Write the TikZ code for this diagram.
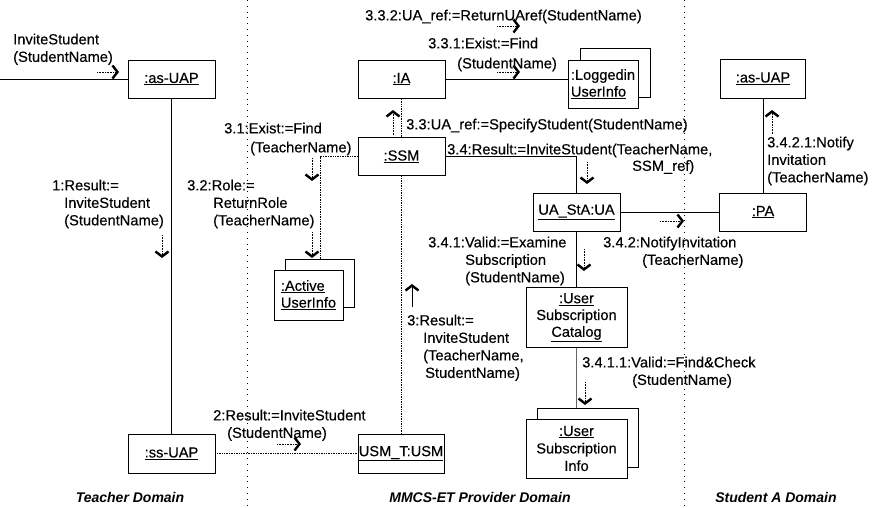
\documentclass[tikz,border=0pt]{standalone}
\usepackage{fontspec}
\setmainfont{Liberation Sans}[FakeBold=0.3]
\newfontfamily\domfont{Liberation Sans}
\usetikzlibrary{arrows.meta,calc}
\begin{document}
\begin{tikzpicture}[x=1pt,y=-1pt,
  obj/.style={draw, line width=0.7pt, fill=white, inner sep=0pt, align=center, font=\fontsize{14.6}{16.8}\selectfont},
  lbl/.style={inner sep=0pt, anchor=north west, align=left, font=\fontsize{14.7}{17.5}\selectfont},
  link/.style={line width=0.7pt},
  dlink/.style={line width=0.7pt, densely dotted},
  msg/.style={densely dotted, line width=0.6pt, -{Straight Barb[length=5pt,width=13pt,line width=2.4pt]}},
  smsg/.style={line width=0.7pt, -{Straight Barb[length=5pt,width=13pt,line width=2.4pt]}},
  sep/.style={line width=0.8pt, dash pattern=on 0.8pt off 5pt},
  dom/.style={font=\domfont\fontsize{14}{16}\selectfont\bfseries\itshape, inner sep=0pt}]
\useasboundingbox (0,0) rectangle (874,507);

% domain separators
\coordinate (s1t) at (247,0); \coordinate (s1b) at (247,507);
\coordinate (s2t) at (684,0); \coordinate (s2b) at (684,507);
\draw[sep] (s1t) -- (s1b);
\draw[sep] (s2t) -- (s2b);

% objects
\node[obj, minimum width=87pt, minimum height=38pt] (asuapL) at (171.5,79) {\underline{:as-UAP}};
\node[obj, minimum width=87pt, minimum height=38pt] (ia) at (401.5,79) {\underline{:IA}};
\node[obj, minimum width=87pt, minimum height=38pt] (ssm) at (401.5,156.5) {\underline{:SSM}};
\node[obj, minimum width=70pt, minimum height=49pt] (logB) at (615,72.5) {};
\node[obj, minimum width=70pt, minimum height=48pt, align=left] (logF) at (603,84) {:Loggedin\\\underline{UserInfo}};
\node[obj, minimum width=69pt, minimum height=48pt] (actB) at (319.5,283) {};
\node[obj, minimum width=69pt, minimum height=50pt, align=left] (actF) at (308.5,295) {\underline{:Active}\\\underline{UserInfo}};
\node[obj, minimum width=85pt, minimum height=39pt] (asuapR) at (763,78.5) {\underline{:as-UAP}};
\node[obj, minimum width=87pt, minimum height=38pt] (ua) at (576.5,212) {\underline{UA\_StA:UA}};
\node[obj, minimum width=87pt, minimum height=38pt] (pa) at (763,212) {\underline{:PA}};
\node[obj, minimum width=101pt, minimum height=60pt] (cat) at (576.5,317.5) {\underline{:User}\\Subscription\\\underline{Catalog}};
\node[obj, minimum width=101pt, minimum height=59pt] (infB) at (587.5,437.5) {};
\node[obj, minimum width=101pt, minimum height=59pt, font=\fontsize{14.6}{17.5}\selectfont] (infF) at (576.5,448.5) {\underline{:User}\\Subscription\\Info};
\node[obj, minimum width=87pt, minimum height=39pt] (ssuap) at (171.5,453.5) {\underline{:ss-UAP}};
\node[obj, minimum width=86pt, minimum height=39pt] (usm) at (401,453.5) {\underline{USM\_T:USM}};

% links
\coordinate (start) at (0,79);
\draw[link] (start) -- (asuapL.west);
\draw[link] (asuapL.south) -- (ssuap.north);
\draw[dlink] (ssuap.east) -- (usm.west);
\draw[dlink] (usm.north -| ssm.south) -- (ssm.south);
\draw[dlink] (ssm.north) -- (ia.south);
\draw[link] (ia.east) -- (ia.east -| logF.west);
\coordinate (actTop) at (320,259);
\draw[dlink] (ssm.west) -| (actTop);
\draw[link] (ssm.east) -| (ua.north);
\draw[link] (ua.east) -- (pa.west);
\draw[link] (pa.north) -- (asuapR.south);
\draw[link] (ua.south) -- (cat.north);
\draw[link, black!60] (cat.south) -- (cat.south |- infB.north);

% message labels
\node[lbl] (tInv) at (13,33.5) {InviteStudent\\(StudentName)};
\node[lbl] (t1) at (52,179.5) {1:Result:=\\\hspace*{12pt}InviteStudent\\\hspace*{12pt}(StudentName)};
\node[lbl] (t32) at (187,179.5) {3.2:Role:=\\\hspace*{26pt}ReturnRole\\\hspace*{26pt}(TeacherName)};
\node[lbl] (t31) at (224,122.5) {3.1:Exist:=Find\\[1.5pt]\hspace*{26pt}(TeacherName)};
\node[lbl] (t332) at (365,9.5) {3.3.2:UA\_ref:=ReturnUAref(StudentName)};
\node[lbl] (t331) at (428,37.5) {3.3.1:Exist:=Find\\[2.5pt]\hspace*{29pt}(StudentName)};
\node[lbl] (t33) at (406,118.5) {3.3:UA\_ref:=SpecifyStudent(StudentName)};
\node[lbl] (t34) at (447,143.5) {3.4:Result:=InviteStudent(TeacherName,\\[-1pt]\hspace*{185pt}SSM\_ref)};
\node[lbl] (t342) at (603,236.5) {3.4.2:NotifyInvitation\\\hspace*{39pt}(TeacherName)};
\node[lbl] (t3421) at (767,136.5) {3.4.2.1:Notify\\Invitation\\(TeacherName)};
\node[lbl] (t341) at (428,236.5) {3.4.1:Valid:=Examine\\\hspace*{37pt}Subscription\\\hspace*{37pt}(StudentName)};
\node[lbl] (t3411) at (582,356.5) {3.4.1.1:Valid:=Find\&Check\\\hspace*{50pt}(StudentName)};
\node[lbl] (t3) at (407,314.5) {3:Result:=\\\hspace*{16pt}InviteStudent\\\hspace*{16pt}(TeacherName,\\\hspace*{18pt}StudentName)};
\node[lbl] (t2) at (213,409.5) {2:Result:=InviteStudent\\\hspace*{14pt}(StudentName)};

% message arrows
\draw[msg] (97,72) -- (119,72);
\draw[msg] (162,235) -- (162,258);
\draw[msg] (312,158) -- (312,181);
\draw[msg] (312,232) -- (312,258);
\draw[msg] (497,26) -- (520,26);
\draw[msg] (497,72) -- (520,72);
\draw[msg] (393,135) -- (393,110);
\draw[msg] (587,162) -- (587,184);
\draw[msg] (660,221) -- (684,221);
\draw[msg] (772,134) -- (772,110);
\draw[msg] (584,249) -- (584,271);
\draw[msg] (585,382) -- (585,405);
\draw[smsg] (412,307) -- (412,284);
\draw[msg] (277,444) -- (301,444);

% domain labels
\node[dom] (dT) at (130,497) {Teacher Domain};
\node[dom] (dM) at (480,497) {MMCS-ET Provider Domain};
\node[dom] (dS) at (776,497) {Student A Domain};
\end{tikzpicture}
\end{document}
